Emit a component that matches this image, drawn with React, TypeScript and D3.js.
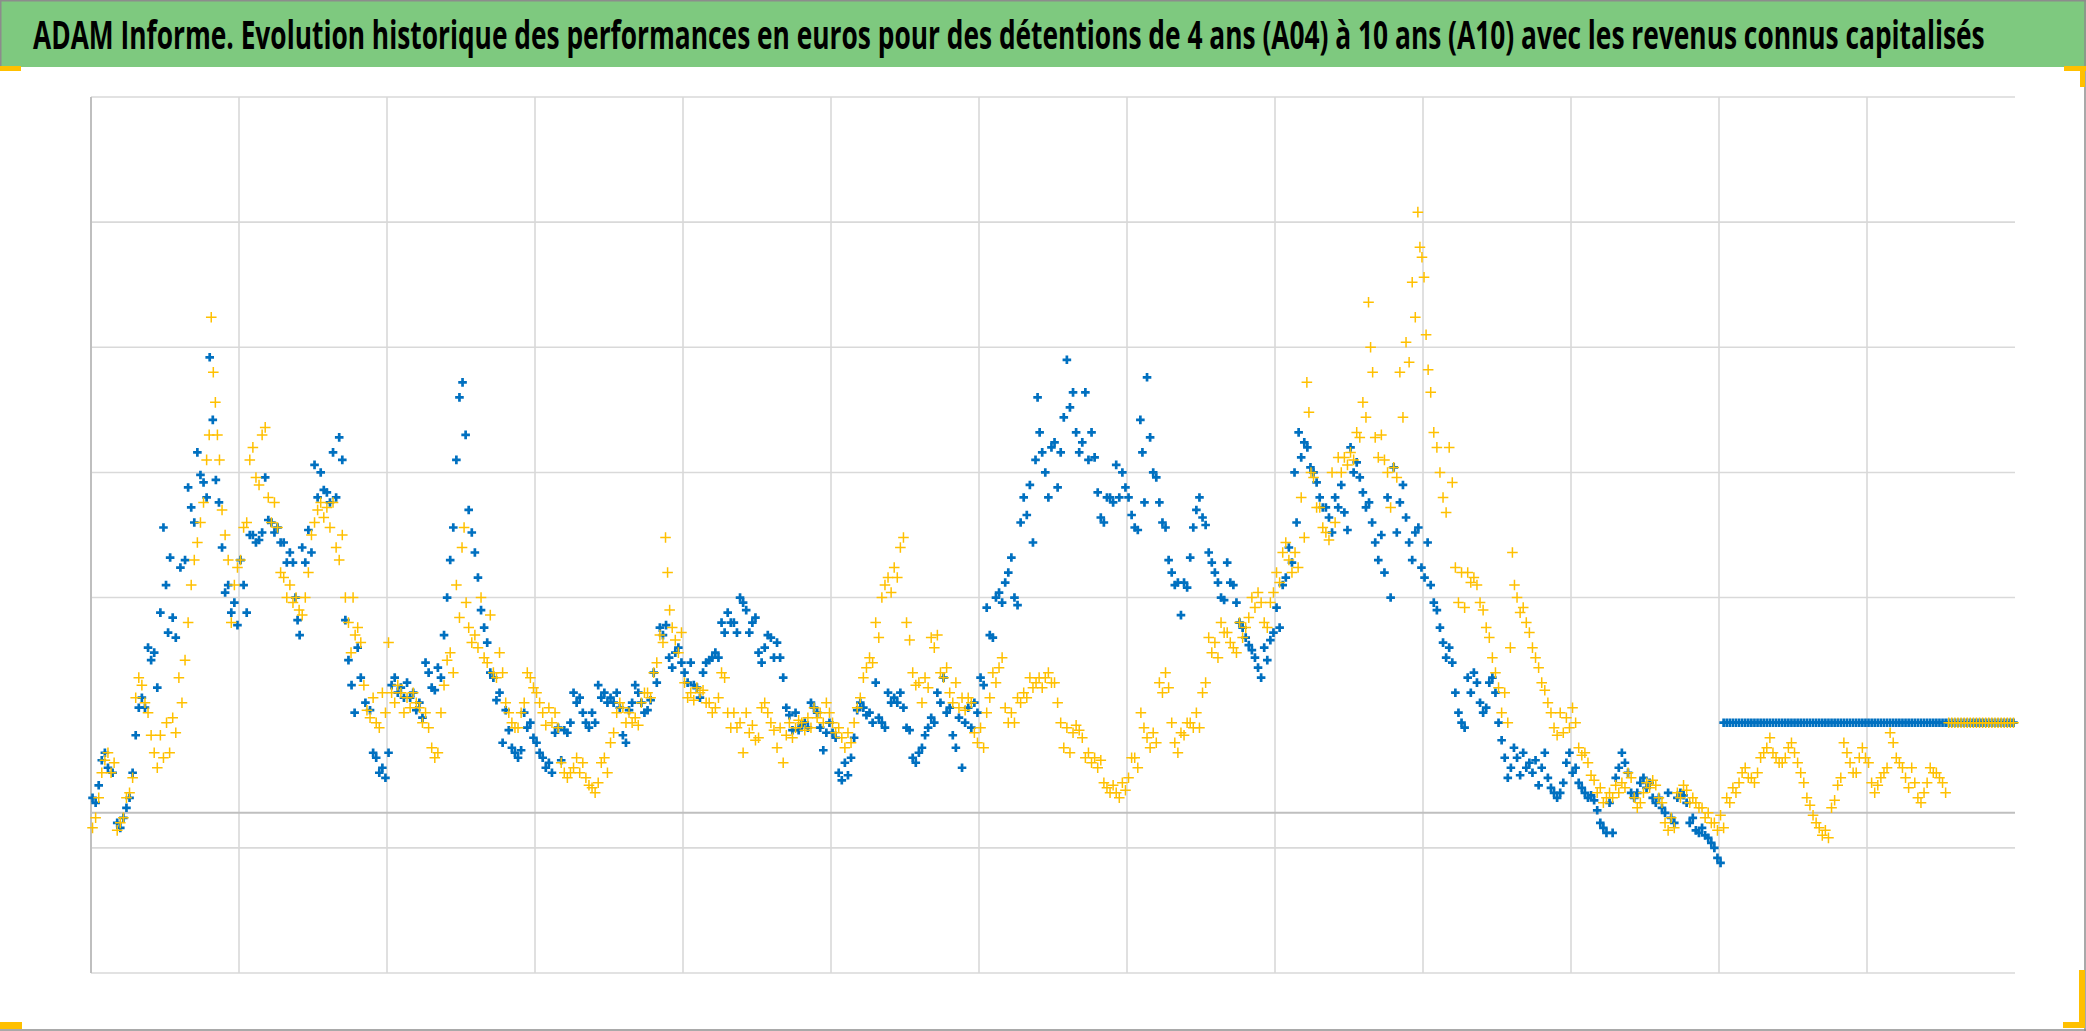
import * as d3 from "d3";
import { useEffect, useRef } from "react";

const WIDTH = 2086;
const HEIGHT = 1031;

const TITLE =
  "ADAM Informe. Evolution historique des performances en euros pour des détentions de 4 ans (A04) à 10 ans (A10) avec les revenus connus capitalisés";

// x: period index (0..312), one vertical gridline every 24 periods
const periodCount = 312;
const xGridStep = 24;
// y: value, gridlines every 50 (the 100 line is not drawn in the original)
const yDomain = [0, 350];
const gridValues = [0, 50, 150, 200, 250, 300, 350];
const baseLineValue = 64;

// each entry = readings inside one period
const a10 = [
  [70, 68], [75, 85], [88, 82], [80], [60, 58], [62, 66], [70, 80], [95, 106], [110, 106], [130, 125],
  [128, 114], [144, 178], [155, 136, 166], [142, 134], [162], [165, 194], [186, 180], [208, 199], [196, 190], [246, 221],
  [197, 188], [170, 152], [155, 144], [148, 139], [165, 155], [144, 175], [175, 172], [173, 176], [198, 181], [180, 176],
  [178, 172], [172, 164], [168, 164], [150, 141, 135], [170, 164], [177, 168], [203, 190], [200, 193], [192, 188], [208, 190],
  [214, 205], [141, 125], [115, 104], [130, 118], [108], [105, 88], [86, 80], [82, 78], [88, 115], [118, 112],
  [114, 110], [116, 110], [112, 105], [108, 102], [124, 120], [114, 113], [122, 118], [135, 150], [165, 178], [205, 230],
  [236, 215], [185, 176], [168, 158], [145, 138], [132, 120], [118, 109], [112, 92], [105, 97], [90, 88], [86, 89],
  [104, 98], [100, 94], [92, 88], [86, 82], [84, 80], [96, 98], [85, 97], [96, 100], [112, 108], [110, 104],
  [100, 98], [104, 100], [115, 110], [112, 108], [110, 108], [112, 106], [95, 92], [105, 108], [115, 112], [108, 104],
  [105, 109], [120, 116], [138, 135], [139, 126], [122, 128], [130, 124], [120, 116], [124, 115], [114, 110], [120, 124],
  [125, 126], [128, 126], [140, 136], [144, 140], [140, 136], [150, 148], [145, 136], [140, 142], [128, 124], [130, 135],
  [134, 126], [132, 126], [118, 106], [103, 97], [104, 97], [99, 100], [98, 108], [106, 104], [98, 89], [96, 100],
  [96, 94], [80, 77], [84, 79], [86, 94], [105, 108], [106, 103], [104, 100], [116, 102], [100, 98], [112, 108],
  [110, 108], [112, 106], [98, 97], [86, 84], [88, 90], [95, 98], [102, 100], [112, 108], [118, 104], [106, 95],
  [90, 102], [82, 100], [106, 98], [108, 104], [118, 115], [146, 135], [134, 150], [152, 148], [156, 160], [166, 150],
  [147, 180], [190, 183], [195, 172], [205, 230, 216], [208, 200], [190, 210], [212, 194], [208, 222], [245, 226], [232, 216],
  [208, 212], [232, 205], [216, 206], [192, 182], [180, 190], [190, 188], [203, 190], [200, 194], [190, 183], [178, 177],
  [221, 208, 188], [238, 214], [200, 198], [188, 180], [178, 165], [160, 155], [156, 143], [156, 154], [166, 178], [185, 190],
  [182, 179], [168, 164], [160, 156], [150, 149], [164, 156], [155, 148], [140, 138], [134, 131], [129, 126], [122, 118],
  [130, 125], [133, 136], [146, 138], [155, 158], [170, 164], [200, 180, 216], [206, 212], [210, 202], [200, 196], [190, 186],
  [186, 182], [176, 190], [186, 195], [184, 177], [210, 200], [204, 198], [192, 186], [188, 180], [172, 165], [175, 160],
  [190, 150], [202, 176], [188, 195], [182, 172], [165, 176], [178, 162], [158, 172], [155, 148], [145, 138], [132, 126],
  [130, 124], [112, 104], [100, 98], [118, 112], [120, 116], [108, 104], [106, 116], [118, 112], [100, 93], [86, 78],
  [82, 90], [86, 79], [88, 82], [84, 80], [85, 75], [82, 88], [78, 74], [72, 70], [72, 76], [84, 88],
  [80, 82], [76, 74], [72, 70], [71, 69], [65, 60], [58, 56], [68, 56], [78, 82], [88, 84], [80, 72],
  [70, 72], [76, 78], [74, 76], [70, 68], [70, 66], [64, 72], [62, 60], [70, 72], [71, 68], [60, 62],
  [57, 56], [58, 55], [54, 52], [50, 46], [44, 100],
  [100, 100], [100, 100], [100, 100], [100, 100], [100, 100], [100, 100], [100, 100], [100, 100], [100, 100], [100, 100],
  [100, 100], [100, 100], [100, 100], [100, 100], [100, 100], [100, 100], [100, 100], [100, 100], [100, 100], [100, 100],
  [100, 100], [100, 100], [100, 100], [100, 100], [100, 100], [100, 100], [100, 100], [100, 100], [100, 100], [100, 100],
  [100, 100], [100, 100], [100, 100], [100, 100], [100, 100], [100, 100], [100, 100], [100, 100], [100, 100], [100, 100],
  [100, 100], [100, 100], [100, 100], [100, 100], [100, 100], [100, 100], [100, 100],
];

const a04 = [
  [58, 62], [70, 80], [85, 88], [80, 84], [57, 60], [62, 70], [72, 78], [110, 118], [115, 108], [104, 95],
  [88, 82], [95, 86], [100, 88], [102, 96], [118, 108], [125, 140], [155, 165], [172, 180], [188, 205], [215, 262, 240],
  [228, 215, 205], [185, 175], [165, 140], [155, 162], [165, 178], [180, 205], [210, 198], [195, 215], [218, 190], [180, 188],
  [178, 160], [158, 150], [155, 148], [150, 145], [143, 150], [160, 175], [180, 185], [188, 182], [186, 178], [188, 170],
  [165, 175], [150, 140], [128, 150, 135], [138, 132], [115, 105], [102, 110], [100, 98], [112, 104], [132, 112], [108, 115],
  [112, 104], [110, 106], [112, 108], [106, 100], [104, 98], [90, 86], [88, 104], [115, 125], [128, 120], [155, 142],
  [170, 178, 148], [138, 132], [135, 130], [150, 126], [124, 143], [120, 118], [128, 120], [108, 104], [100, 98], [98, 104],
  [108, 120], [118, 114], [112, 108], [104, 99], [106, 100], [104, 98], [84, 80], [78, 80], [82, 86], [80, 84],
  [78, 75], [74, 72], [76, 84], [86, 80], [92, 96], [104, 108], [106, 100], [104, 100], [102, 99], [108, 112],
  [112, 110], [120, 124], [135, 132], [174, 160, 145], [138, 133], [128, 136], [116, 110], [112, 109], [114, 112], [113, 108],
  [108, 104], [106, 110], [120, 118], [104, 98], [104, 98], [100, 88], [104, 96], [99, 93], [94, 106], [108, 104],
  [100, 97], [90, 98], [84, 95], [100, 94], [98, 101], [100, 97], [102, 98], [106, 102], [104, 100], [108, 104],
  [100, 96], [98, 94], [90, 96], [92, 100], [106, 110], [118, 122], [126, 124], [140, 134], [150, 155], [158, 152],
  [162, 158], [170, 174], [140, 133], [120, 115], [116, 108], [118, 114], [134, 130], [135, 120], [118, 122], [112, 108],
  [116, 106], [110, 105], [110, 108], [96, 92], [98, 90], [104, 110], [120, 116], [122, 126], [106, 100], [104, 100],
  [110, 108], [112, 110], [118, 114], [116, 118], [114, 118], [120, 116], [116, 108], [100, 90], [98, 88], [96, 99],
  [97, 94], [86, 88], [84, 86], [82, 85], [76, 74], [72, 75], [72, 70], [76, 73], [78, 86], [86, 82],
  [104, 98], [94, 90], [96, 92], [116, 112], [120, 114], [100, 92], [88, 96], [95, 100], [100, 98], [104, 98],
  [112, 116], [134, 128], [132, 126], [140, 136], [136, 132], [130, 128], [140, 134], [138, 142], [150, 146], [152, 148],
  [140, 138], [148, 152], [160, 156], [168, 172], [165, 160], [168, 162], [190, 174], [236, 224, 200], [198, 186], [186, 178],
  [176, 173], [200, 180], [206, 200], [206, 203], [208, 205], [216, 214], [228, 222], [268, 250, 240], [214, 206], [215, 205],
  [200, 186], [202, 198], [240, 222], [252, 244], [276, 262], [304, 290, 286], [278, 255, 241], [232, 216], [210, 200], [190, 184],
  [210, 196], [162, 148], [160, 146], [160, 156], [158, 155], [148, 145], [138, 134], [126, 120], [114, 104], [112, 100],
  [130, 168, 155], [150, 144], [146, 140], [136, 130], [126, 122], [116, 113], [108, 104], [98, 95], [104, 96], [102, 98],
  [106, 100], [90, 87], [88, 84], [79, 77], [72, 74], [68, 70], [72, 70], [75, 72], [76, 74], [80, 78],
  [70, 66], [68, 72], [76, 74], [77, 75], [70, 68], [60, 57], [62, 58], [72, 70], [75, 73], [68, 70],
  [68, 66], [66, 62], [64, 60], [60, 57], [63, 58], [70, 68], [74, 72], [76, 80], [82, 78], [78, 76],
  [80, 86], [88, 90], [94, 88], [86, 84], [84, 86], [90, 92], [88, 84], [80, 76], [70, 67], [63, 60],
  [58, 55], [57, 54], [66, 69], [75, 78], [92, 88], [84, 80], [80, 86], [90, 86], [84, 76], [72, 75],
  [78, 80], [82, 96], [92, 86], [84, 82], [78, 74], [82, 76], [70, 68], [72, 76], [82, 80], [80, 78],
  [76, 72],
  [100, 100], [100, 100], [100, 100], [100, 100], [100, 100], [100, 100], [100, 100], [100, 100], [100, 100], [100, 100],
  [100, 100],
];

const toPoints = (series: number[][]) =>
  series.flatMap((vals, i) =>
    vals.map((v, j) => ({ x: i + (j + 0.5) / vals.length, y: v }))
  );

const Chart = () => {
  const ref = useRef<SVGSVGElement>(null);

  useEffect(() => {
    document.body.style.margin = "0";
    const svg = d3.select(ref.current);
    svg.selectAll("*").remove();

    const left = 91;
    const right = 2015;
    const top = 97;
    const bottom = 973;

    const x = d3.scaleLinear().domain([0, periodCount]).range([left, right]);
    const y = d3.scaleLinear().domain(yDomain).range([bottom, top]);

    svg.append("rect").attr("width", WIDTH).attr("height", HEIGHT).attr("fill", "#fff");

    // title band
    svg.append("rect").attr("x", 0).attr("y", 0).attr("width", WIDTH).attr("height", 67).attr("fill", "#7ec97f");
    const title = svg
      .append("text")
      .attr("font-family", "'Open Sans', 'Noto Sans', sans-serif")
      .attr("font-weight", "bold")
      .attr("font-size", 39)
      .attr("fill", "#000")
      .text(TITLE);
    const natural = (title.node() as SVGTextElement).getComputedTextLength() || 1952;
    title.attr("transform", `translate(33,49) scale(${1952 / natural},1)`);

    // frame
    const frame = svg.append("g").attr("stroke", "#8c8c8c").attr("stroke-width", 1.5).attr("fill", "none");
    frame.append("line").attr("x1", 0).attr("x2", WIDTH).attr("y1", 0.75).attr("y2", 0.75);
    frame.append("line").attr("x1", 0.75).attr("x2", 0.75).attr("y1", 0).attr("y2", 67);
    frame.append("line").attr("x1", 2085).attr("x2", 2085).attr("y1", 0).attr("y2", HEIGHT);
    frame.append("line").attr("x1", 0).attr("x2", WIDTH).attr("y1", 1030).attr("y2", 1030);

    const corner = svg.append("g").attr("fill", "#FFC000");
    corner.append("rect").attr("x", 0).attr("y", 66).attr("width", 21).attr("height", 5);
    corner.append("rect").attr("x", 2064).attr("y", 66).attr("width", 22).attr("height", 5);
    corner.append("rect").attr("x", 2080).attr("y", 66).attr("width", 5).attr("height", 21);
    corner.append("rect").attr("x", 0).attr("y", 1022).attr("width", 22).attr("height", 7);
    corner.append("rect").attr("x", 2079).attr("y", 970).attr("width", 6).attr("height", 58);
    corner.append("rect").attr("x", 2063).attr("y", 1022).attr("width", 22).attr("height", 6);

    // grid
    const grid = svg.append("g").attr("stroke", "#d9d9d9").attr("stroke-width", 1.6);
    grid
      .selectAll("line.h")
      .data(gridValues)
      .join("line")
      .attr("x1", left)
      .attr("x2", right)
      .attr("y1", (d) => y(d))
      .attr("y2", (d) => y(d));
    grid
      .selectAll("line.v")
      .data(d3.range(xGridStep, periodCount, xGridStep))
      .join("line")
      .attr("x1", (d) => x(d))
      .attr("x2", (d) => x(d))
      .attr("y1", top)
      .attr("y2", bottom);

    svg
      .append("line")
      .attr("x1", left)
      .attr("x2", right)
      .attr("y1", y(baseLineValue))
      .attr("y2", y(baseLineValue))
      .attr("stroke", "#bfbfbf")
      .attr("stroke-width", 2);
    svg
      .append("line")
      .attr("x1", left)
      .attr("x2", left)
      .attr("y1", top)
      .attr("y2", bottom)
      .attr("stroke", "#bfbfbf")
      .attr("stroke-width", 2);

    // markers
    const drawSeries = (series: number[][], color: string, size: number, width: number) => {
      svg
        .append("g")
        .selectAll("path")
        .data(toPoints(series))
        .join("path")
        .attr("transform", (d) => `translate(${x(d.x)},${y(d.y)})`)
        .attr("d", `M${-size},0H${size}M0,${-size}V${size}`)
        .attr("fill", "none")
        .attr("stroke", color)
        .attr("stroke-width", width);
    };

    drawSeries(a10, "#0070C0", 4.3, 2.7);
    drawSeries(a04, "#FFC000", 5.3, 1.5);
  }, []);

  return <svg ref={ref} width={WIDTH} height={HEIGHT} style={{ display: "block" }}></svg>;
};

export default function App() {
  return <Chart />;
}
